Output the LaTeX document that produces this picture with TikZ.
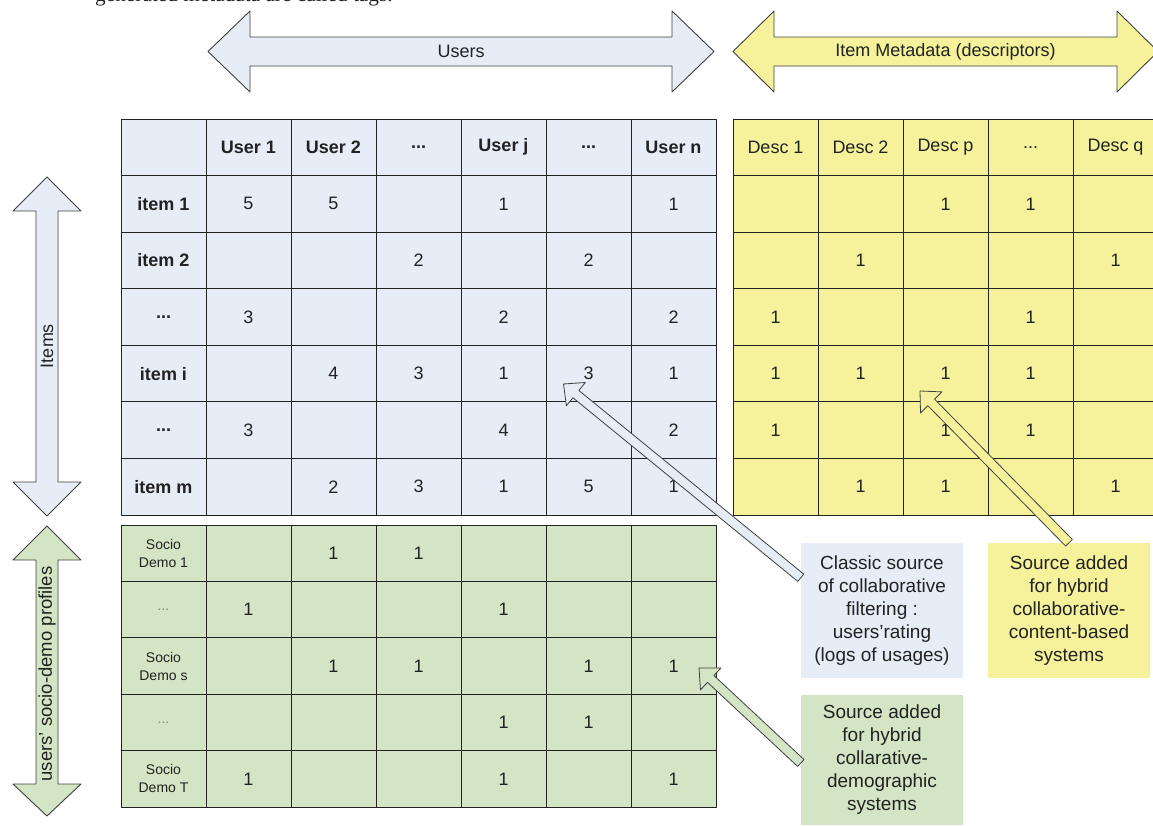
\documentclass[tikz,border=0pt]{standalone}
\usepackage{fontspec}
\setmainfont{Liberation Sans}
\newfontfamily\serifface{Liberation Serif}
\usetikzlibrary{calc}
\definecolor{rateblue}{RGB}{230,237,246}
\definecolor{descyellow}{RGB}{246,242,155}
\definecolor{demogreen}{RGB}{211,229,196}
\definecolor{ink}{RGB}{34,34,34}
\newcommand\elide{...}
\newcommand\faintdots{\textcolor{black!50}{...}}
% thin block arrow from #2 (tail) to #3 (tip)
\newcommand\calloutarrow[3]{%
  \path (#3) coordinate (tp) ($(#3)!16pt!(#2)$) coordinate (hd);
  \draw[#1] (tp) -- ($(hd)!15pt!90:(tp)$) -- ($(hd)!4.7pt!90:(tp)$) -- ($(#2)!4.7pt!90:(tp)$)
    -- ($(#2)!4.7pt!-90:(tp)$) -- ($(hd)!4.7pt!-90:(tp)$) -- ($(hd)!15pt!-90:(tp)$) -- cycle;}
\begin{document}
\begin{tikzpicture}[x=1pt, y=-1pt, line join=round, font=\fontsize{18}{21}\selectfont,
	every node/.append style={text=ink},
	ucell/.style={draw=ink, line width=1pt, fill=rateblue, minimum width=85pt, minimum height=56.57pt, inner sep=0pt, align=center},
	dcell/.style={ucell, fill=descyellow},
	gcell/.style={ucell, fill=demogreen, minimum height=56.4pt},
	band/.style={draw=black!75, line width=.9pt},
	note/.style={minimum width=162pt, minimum height=135pt, inner sep=0pt, align=center, font=\fontsize{19}{23}\selectfont},
	pointer/.style={draw=black!75, line width=.8pt}]
	\useasboundingbox (0,0) rectangle (1153,825);
	\clip (0,0) rectangle (1153,825);
	\node[anchor=base west, inner sep=0pt, font=\serifface\fontsize{21.3}{24}\selectfont] (caption) at (95,1.5) {generated metadata are called tags.};
	% block arrows
	\draw[band, fill=rateblue] (208,51.5) -- (250,11) -- (250,37) -- (672,37) -- (672,11) -- (714,51.5) -- (672,92) -- (672,66) -- (250,66) -- (250,92) -- cycle;
	\node (users) at (461,51.5) {Users};
	\draw[band, fill=descyellow] (733,51.5) -- (774,11) -- (774,37) -- (1117,37) -- (1117,11) -- (1158,51.5) -- (1117,92) -- (1117,66) -- (774,66) -- (774,92) -- cycle;
	\node (meta) at (945.5,51.5) {Item Metadata (descriptors)};
	\draw[band, fill=rateblue] (47,177) -- (81,211) -- (58,211) -- (58,482) -- (81,482) -- (47,516) -- (13,482) -- (36,482) -- (36,211) -- (13,211) -- cycle;
	\node[rotate=90] (items) at (47,346) {Items};
	\draw[band, fill=demogreen] (47,526) -- (81,560) -- (58,560) -- (58,784) -- (81,784) -- (47,816) -- (13,784) -- (36,784) -- (36,560) -- (13,560) -- cycle;
	\node[rotate=90, font=\fontsize{18.5}{21}\selectfont] (profiles) at (47,674) {users’ socio-demo profiles};
	% ratings
	\foreach \row [count=\r from 0] in {{,User 1,User 2,\elide,User j,\elide,User n},%
		{item 1,5,5,,1,,1},%
		{item 2,,,2,,2,},%
		{\elide,3,,,2,,2},%
		{item i,,4,3,1,3,1},%
		{\elide,3,,,4,,2},%
		{item m,,2,3,1,5,1}}
		\foreach \val [count=\c from 0] in \row
			\node[ucell] (u\r-\c) at ({163.5+85*\c},{147.3+56.57*\r}) {\ifnum\r=0 \bfseries\fi\ifnum\c=0 \bfseries\fi\val};
	% descriptors
	\foreach \row [count=\r from 0] in {{Desc 1,Desc 2,Desc p,\elide,Desc q},%
		{,,1,1,},%
		{,1,,,1},%
		{1,,,1,},%
		{1,1,1,1,},%
		{1,,1,1,},%
		{,1,1,,1}}
		\foreach \val [count=\c from 0] in \row
			\node[dcell] (d\r-\c) at ({775.5+85*\c},{147.3+56.57*\r}) {\val};
	% socio-demo profiles
	\foreach \row [count=\r from 0] in {{Socio\\Demo 1,,1,1,,,},%
		{\faintdots,1,,,1,,},%
		{Socio\\Demo s,,1,1,,1,1},%
		{\faintdots,,,,1,1,},%
		{Socio\\Demo T,1,,,1,,1}}
		\foreach \val [count=\c from 0] in \row
			\node[gcell, font={\ifnum\c=0 \fontsize{14}{18}\else\fontsize{18}{21}\fi\selectfont}] (g\r-\c) at ({163.5+85*\c},{553.2+56.4*\r}) {\val};
	% sources
	\node[note, fill=rateblue] (cfbox) at (882,610.5) {Classic source\\of collaborative\\filtering :\\users’rating\\(logs of usages)};
	\node[note, fill=descyellow] (cbbox) at (1069,610.5) {Source added\\for hybrid\\collaborative-\\content-based\\systems};
	\node[note, fill=demogreen, minimum height=130pt] (dmbox) at (882,760) {Source added\\for hybrid\\collarative-\\demographic\\systems};
	\coordinate (cf-tail) at ([yshift=-35pt]cfbox.north west);
	\coordinate (cf-tip) at ([xshift=-25pt,yshift=-10.4pt]u4-5.center);
	\coordinate (cb-tail) at (cbbox.north);
	\coordinate (cb-tip) at ([xshift=-25.5pt,yshift=-17.4pt]d4-2.center);
	\coordinate (dm-tail) at ([yshift=-3pt]dmbox.west);
	\coordinate (dm-tip) at ([xshift=25.5pt,yshift=-2pt]g2-6.center);
	\calloutarrow{pointer, fill=rateblue}{cf-tail}{cf-tip}
	\calloutarrow{pointer, fill=descyellow}{cb-tail}{cb-tip}
	\calloutarrow{pointer, fill=demogreen}{dm-tail}{dm-tip}
\end{tikzpicture}
\end{document}
